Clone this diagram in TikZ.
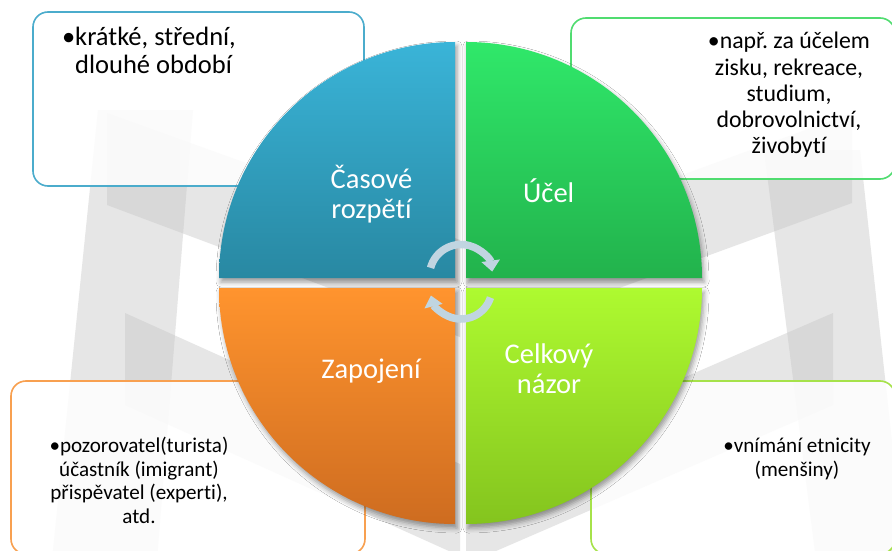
\documentclass[tikz,border=0pt]{standalone}
\usepackage{fontspec}
\setmainfont{Carlito}[Ligatures=NoCommon]
\usetikzlibrary{arrows.meta,shadows.blur}
\frenchspacing

% watermark greys
\definecolor{wmlight}{RGB}{230,230,230}
\definecolor{wmdark}{RGB}{216,216,216}
% quadrant gradients
\definecolor{blueTop}{RGB}{58,180,216}
\definecolor{blueBot}{RGB}{40,136,162}
\definecolor{greenTop}{RGB}{48,232,106}
\definecolor{greenBot}{RGB}{34,178,76}
\definecolor{orangeTop}{RGB}{255,148,46}
\definecolor{orangeBot}{RGB}{206,108,32}
\definecolor{limeTop}{RGB}{174,250,48}
\definecolor{limeBot}{RGB}{132,196,30}
% box outlines
\definecolor{blueLine}{RGB}{75,172,204}
\definecolor{greenLine}{RGB}{80,220,112}
\definecolor{orangeLine}{RGB}{248,160,80}
\definecolor{limeLine}{RGB}{166,226,74}
% cycle arrows
\definecolor{arrowTone}{RGB}{192,213,225}

\tikzset{
  infobox/.style={draw=#1, line width=1.6pt, rounded corners=15pt,
    fill=white, fill opacity=0.85, draw opacity=1},
  quadrant/.style 2 args={top color=#1, bottom color=#2,
    blur shadow={shadow xshift=2pt, shadow yshift=-4pt,
      shadow blur radius=5pt, shadow opacity=40}},
  qlabel/.style={text=white, align=center, inner sep=0pt,
    font=\fontsize{28.5}{30}\selectfont},
  boxtext/.style={text=black, inner sep=0pt},
  cyclearrow/.style={draw=arrowTone, line width=7.5pt,
    -{Triangle[width=18pt,length=11pt]}},
}

\begin{document}
\begin{tikzpicture}[x=1pt,y=-1pt]
\useasboundingbox (0,0) rectangle (892,551);
\fill[white] (0,0) rectangle (892,551);

% --- faint background logo ---
\fill[wmlight] (98,110) -- (193,110) -- (157,560) -- (52,560) -- cycle;
\fill[wmlight] (107,113) -- (460,240) -- (460,337) -- (107,205) -- cycle;
\fill[wmlight] (125,313) -- (460,464) -- (460,556) -- (125,405) -- cycle;
\begin{scope}
  \clip (98,110) -- (193,110) -- (157,560) -- (52,560) -- cycle;
  \fill[wmdark] (107,113) -- (460,240) -- (460,337) -- (107,205) -- cycle;
  \fill[wmdark] (125,313) -- (460,464) -- (460,556) -- (125,405) -- cycle;
\end{scope}
\fill[wmlight] (764,150) -- (860,150) -- (905,560) -- (816,560) -- cycle;
\fill[wmlight] (852,113) -- (852,203) -- (466,344) -- (466,254) -- cycle;
\fill[wmlight] (833,313) -- (833,405) -- (466,564) -- (466,472) -- cycle;
\begin{scope}
  \clip (764,150) -- (860,150) -- (905,560) -- (816,560) -- cycle;
  \fill[wmdark] (852,113) -- (852,203) -- (466,344) -- (466,254) -- cycle;
  \fill[wmdark] (833,313) -- (833,405) -- (466,564) -- (466,472) -- cycle;
\end{scope}

% --- detail boxes ---
\path[infobox=blueLine]   (33,12)   rectangle (364,186);
\path[infobox=greenLine]  (571,18)  rectangle (895,179);
\path[infobox=orangeLine] (11,381)  rectangle (365,554);
\path[infobox=limeLine]   (591,381) rectangle (895,554);

% --- four quadrants ---
\path[quadrant={blueTop}{blueBot}]
  (455,278) -- (219,278) arc[start angle=180, end angle=270, radius=236] -- cycle;
\path[quadrant={greenTop}{greenBot}]
  (466,278) -- (466,42) arc[start angle=270, end angle=360, radius=236] -- cycle;
\path[quadrant={orangeTop}{orangeBot}]
  (455,288) -- (455,524) arc[start angle=90, end angle=180, radius=236] -- cycle;
\path[quadrant={limeTop}{limeBot}]
  (466,288) -- (702,288) arc[start angle=0, end angle=90, radius=236] -- cycle;

% --- cycle arrows in the middle ---
\coordinate (upc) at (461,276);
\coordinate (loc) at (461,288);
\draw[cyclearrow] (upc) ++(195:31.5) arc[start angle=195, end angle=352, radius=31.5];
\draw[cyclearrow] (loc) ++(18:31) arc[start angle=18, end angle=166, radius=31];

% --- quadrant titles ---
\node[qlabel] (lcas) at (371.5,194) {Časové\\rozpětí};
\node[qlabel] (lucel) at (548.7,191) {Účel};
\node[qlabel] (lzap) at (371,371.5) {Zapojení};
\node[qlabel] (lcel) at (549,369) {Celkový\\názor};

% --- box texts ---
\node[boxtext, anchor=north west, align=left,
  font=\fontsize{26.5}{28}\selectfont] (ttime) at (75,27)
  {\llap{•}krátké, střední,\\dlouhé období};
\node[boxtext, align=center, font=\fontsize{23.8}{26.2}\selectfont]
  (tpurp) at (789,95)
  {•např. za účelem\\zisku, rekreace,\\studium,\\dobrovolnictví,\\živobytí};
\node[boxtext, align=center, font=\fontsize{21.1}{23.7}\selectfont]
  (tinv) at (139,480.5)
  {•pozorovatel(turista)\\účastník (imigrant)\\přispěvatel (experti),\\atd.};
\node[boxtext, align=center, font=\fontsize{21.1}{23.7}\selectfont]
  (tview) at (797,459)
  {•vnímání etnicity\\(menšiny)};
\end{tikzpicture}
\end{document}
